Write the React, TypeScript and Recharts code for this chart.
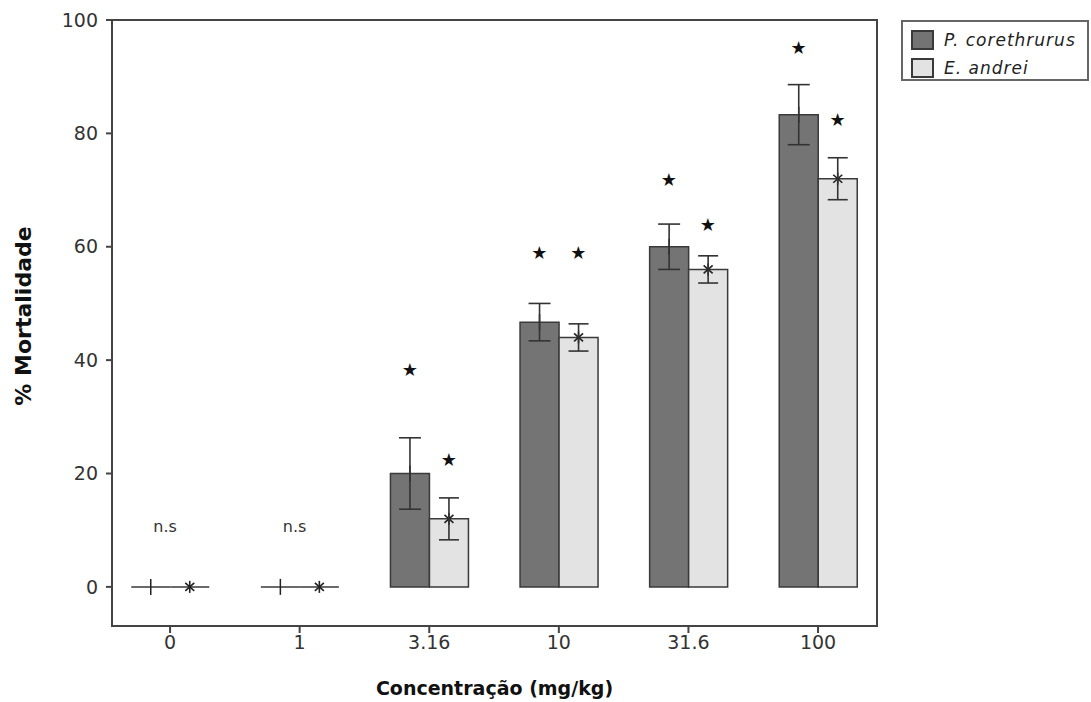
import { Bar, ComposedChart, ErrorBar, ReferenceArea, Scatter, XAxis, YAxis } from "recharts";

const concentrations = ["0", "1", "3.16", "10", "31.6", "100"];
const corethrurus = [0, 0, 20, 46.7, 60, 83.3];
const corethrurusErr = [0, 0, 6.3, 3.3, 4, 5.3];
const andrei = [0, 0, 12, 44, 56, 72];
const andreiErr = [0, 0, 3.7, 2.4, 2.4, 3.7];
const yTicks = [0, 20, 40, 60, 80, 100];

// significance marks: star heights above each bar, "n.s" where no difference
const corethrurusStar = [null, null, 38.3, 58.9, 71.8, 95.2];
const andreiStar = [null, null, 22.4, 58.9, 64, 82.4];
const nsLevel = [10.6, 10.6, null, null, null, null];

const DARK = "#747474";
const LIGHT = "#e3e3e3";
const EDGE = "#3a3a3a";
const FONT = "'DejaVu Sans', sans-serif";
const BAR_W = 39;

const rows = concentrations.map((c, i) => ({
  pos: i,
  pc: corethrurus[i],
  pcErr: corethrurusErr[i],
  ea: andrei[i],
  eaErr: andreiErr[i],
  pcStar: corethrurusStar[i],
  eaStar: andreiStar[i],
  ns: nsLevel[i],
}));

/** Bar drawn as a path so zero-height bars still show as a line, plus a mean marker. */
function MarkedBar(props: any) {
  const { x, y, width, height, fill, marker } = props;
  const cx = x + width / 2;
  const d = `M${x},${y}h${width}v${height}h${-width}Z`;
  return (
    <g>
      <path d={d} fill={fill} stroke={EDGE} strokeWidth={1.5} />
      {marker === "plus" ? (
        <line x1={cx} y1={y - 8} x2={cx} y2={y + 8} stroke="#222" strokeWidth={1.5} />
      ) : (
        <g stroke="#222" strokeWidth={1.6}>
          <line x1={cx} y1={y - 6} x2={cx} y2={y + 6} />
          <line x1={cx - 4.5} y1={y - 4} x2={cx + 4.5} y2={y + 4} />
          <line x1={cx - 4.5} y1={y + 4} x2={cx + 4.5} y2={y - 4} />
        </g>
      )}
    </g>
  );
}

function StarMark({ cx, cy, payload, k, shift }: any) {
  if (payload?.[k] == null) return null;
  return (
    <text x={cx + shift} y={cy} textAnchor="middle" dominantBaseline="central" fontSize={18} fill="#111" fontFamily="DejaVu Sans">
      ★
    </text>
  );
}

function NsMark({ cx, cy, payload }: any) {
  if (payload?.ns == null) return null;
  return (
    <text x={cx - 5} y={cy} textAnchor="middle" dominantBaseline="central" fontSize={16} fill="#333" fontFamily={FONT}>
      n.s
    </text>
  );
}

function LegendBox() {
  const items = [
    { name: "P. corethrurus", color: DARK },
    { name: "E. andrei", color: LIGHT },
  ];
  return (
    <div
      style={{
        position: "absolute",
        left: 901,
        top: 20,
        width: 188,
        height: 61,
        boxSizing: "border-box",
        border: "2px solid #666",
        padding: "4px 0 0 8px",
        fontFamily: FONT,
        fontStyle: "italic",
        fontSize: 17,
        letterSpacing: 1,
        color: "#222",
        background: "#fff",
      }}
    >
      {items.map((it) => (
        <div key={it.name} style={{ display: "flex", alignItems: "center", height: 28 }}>
          <span
            style={{
              display: "inline-block",
              width: 23,
              height: 20,
              background: it.color,
              border: `2px solid ${EDGE}`,
              boxSizing: "border-box",
              marginRight: 10,
            }}
          />
          {it.name}
        </div>
      ))}
    </div>
  );
}

export default function App() {
  return (
    <div style={{ position: "absolute", left: 0, top: 0, width: 1091, height: 702, background: "#fff" }}>
      <ComposedChart
        width={1091}
        height={702}
        data={rows}
        margin={{ top: 20, right: 214, left: 0, bottom: 0 }}
        barGap={0}
      >
        <XAxis
          dataKey="pos"
          type="number"
          domain={[-0.448, 5.455]}
          ticks={[0, 1, 2, 3, 4, 5]}
          tickFormatter={(v: number) => concentrations[v]}
          height={76}
          tickSize={7}
          tickMargin={3}
          axisLine={{ stroke: "#444", strokeWidth: 2 }}
          tickLine={{ stroke: "#444", strokeWidth: 2 }}
          tick={{ fill: "#333", fontSize: 19, fontFamily: FONT }}
          allowDataOverflow
          label={({ viewBox }: any) => (
            <text
              x={viewBox.x + viewBox.width / 2}
              y={viewBox.y + 62}
              textAnchor="middle"
              dominantBaseline="central"
              fontFamily={FONT}
              fontWeight="bold"
              fontSize={19}
              fill="#111"
            >
              Concentração (mg/kg)
            </text>
          )}
        />
        <YAxis
          type="number"
          domain={[-6.9, 100]}
          ticks={yTicks}
          width={112}
          tickSize={6}
          tickMargin={8}
          axisLine={{ stroke: "#444", strokeWidth: 2 }}
          tickLine={{ stroke: "#444", strokeWidth: 2 }}
          tick={{ fill: "#333", fontSize: 19, fontFamily: FONT }}
          allowDataOverflow
          label={({ viewBox }: any) => {
            const cy = viewBox.y + viewBox.height / 2 - 7;
            return (
              <text
                x={23}
                y={cy}
                transform={`rotate(-90, 23, ${cy})`}
                textAnchor="middle"
                dominantBaseline="central"
                fontFamily={FONT}
                fontWeight="bold"
                fontSize={22}
                fill="#111"
              >
                % Mortalidade
              </text>
            );
          }}
        />
        <ReferenceArea
          x1={-0.448}
          x2={5.455}
          y1={-6.9}
          y2={100}
          fill="none"
          stroke="#444"
          strokeWidth={2}
          ifOverflow="visible"
        />
        <Bar
          dataKey="pc"
          fill={DARK}
          barSize={BAR_W}
          isAnimationActive={false}
          shape={(p: any) => <MarkedBar {...p} marker="plus" />}
        >
          <ErrorBar dataKey="pcErr" width={11} stroke="#333" strokeWidth={1.6} />
        </Bar>
        <Bar
          dataKey="ea"
          fill={LIGHT}
          barSize={BAR_W}
          isAnimationActive={false}
          shape={(p: any) => <MarkedBar {...p} marker="star" />}
        >
          <ErrorBar dataKey="eaErr" width={10} stroke="#333" strokeWidth={1.6} />
        </Bar>
        <Scatter
          dataKey="pcStar"
          isAnimationActive={false}
          shape={(p: any) => <StarMark {...p} k="pcStar" shift={-BAR_W / 2} />}
        />
        <Scatter
          dataKey="eaStar"
          isAnimationActive={false}
          shape={(p: any) => <StarMark {...p} k="eaStar" shift={BAR_W / 2} />}
        />
        <Scatter dataKey="ns" isAnimationActive={false} shape={(p: any) => <NsMark {...p} />} />
      </ComposedChart>
      <LegendBox />
    </div>
  );
}
